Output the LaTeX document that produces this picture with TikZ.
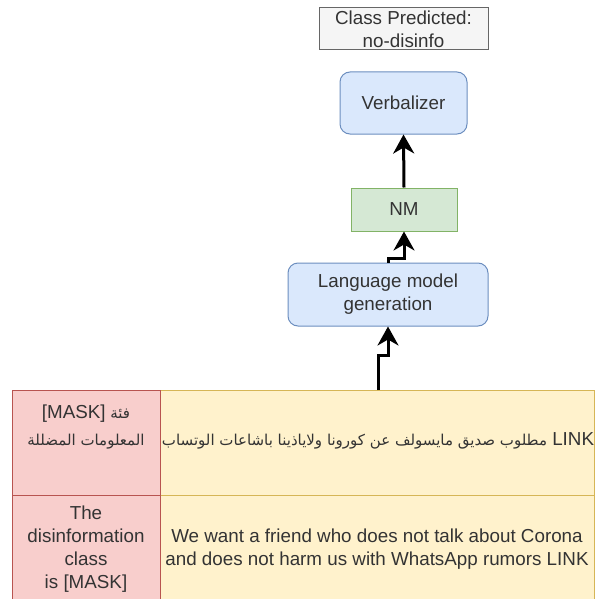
\documentclass[tikz,border=0pt]{standalone}
\usepackage{fontspec}
\setmainfont{Liberation Sans}
\newfontfamily\arabicfont[Script=Arabic]{DejaVu Sans}
\TeXXeTstate=1
\usetikzlibrary{arrows.meta}
\definecolor{txt}{HTML}{333333}
\definecolor{grayfill}{HTML}{F5F5F5}
\definecolor{grayline}{HTML}{666666}
\definecolor{bluefill}{HTML}{DAE8FC}
\definecolor{blueline}{HTML}{6C8EBF}
\definecolor{greenfill}{HTML}{D5E8D4}
\definecolor{greenline}{HTML}{82B366}
\definecolor{pinkfill}{HTML}{F8CECC}
\definecolor{pinkline}{HTML}{B85450}
\definecolor{yellowfill}{HTML}{FFF2CC}
\definecolor{yellowline}{HTML}{D6B656}
\tikzset{
  base/.style={font=\fontsize{18.8}{23}\selectfont, text=txt, align=center, inner sep=0pt},
  graybox/.style={base, draw=grayline, fill=grayfill, line width=1pt},
  bluebox/.style={base, draw=blueline, fill=bluefill, line width=1pt, rounded corners=10pt},
  greenbox/.style={base, draw=greenline, fill=greenfill, line width=1pt},
  pinkcell/.style={base, draw=pinkline, fill=pinkfill, line width=1pt},
  yellowcell/.style={base, draw=yellowline, fill=yellowfill, line width=1pt},
  celltext/.style={base},
  arr/.style={line width=3pt, -{Stealth[length=19pt,width=21pt,inset=6pt]}}
}
\begin{document}
\begin{tikzpicture}[x=1pt,y=-1pt]
\useasboundingbox (0,0) rectangle (595,599);
\node[graybox, minimum width=169pt, minimum height=42pt] (cls) at (403.5,29) {Class Predicted:\\no-disinfo};
\node[bluebox, minimum width=127pt, minimum height=62pt] (verb) at (403.5,103) {Verbalizer};
\node[greenbox, minimum width=106pt, minimum height=43pt] (nm) at (404,209.5) {NM};
\node[bluebox, minimum width=200pt, minimum height=63pt] (lm) at (388,294.5) {Language model\\generation};
% table
\node[yellowcell, minimum width=434pt, minimum height=105pt] (y1) at (377,442.5) {};
\node[yellowcell, minimum width=434pt, minimum height=108pt] (y2) at (377,549) {We want a friend who does not talk about Corona\\and does not harm us with WhatsApp rumors LINK};
\node[pinkcell, minimum width=148pt, minimum height=105pt] (p1) at (86,442.5) {};
\node[pinkcell, minimum width=148pt, minimum height=108pt] (p2) at (86,549) {The\\disinformation\\class\\is [MASK]};
\node[celltext, font=\fontsize{15}{27}\selectfont] (p1t) at (86,427) {{\arabicfont\beginR فئة \beginL\fontspec{Liberation Sans}\fontsize{18.8}{27}\selectfont[MASK]\endL\endR}\\{\arabicfont\beginR المعلومات المضللة\endR}};
\node[celltext] (y1t) at (378,441) {{\arabicfont\fontsize{15}{23}\selectfont\beginR مطلوب صديق مايسولف عن كورونا ولاياذينا باشاعات الوتساب\endR} LINK};
% connectors
\coordinate (s1) at (378,390);
\draw[arr] (s1) -- ++(0,-35) -| (lm.south);
\draw[arr] (lm.north) -- ++(0,-4) -| (nm.south);
\draw[arr] (nm.north) -- (verb.south);
\end{tikzpicture}
\end{document}
